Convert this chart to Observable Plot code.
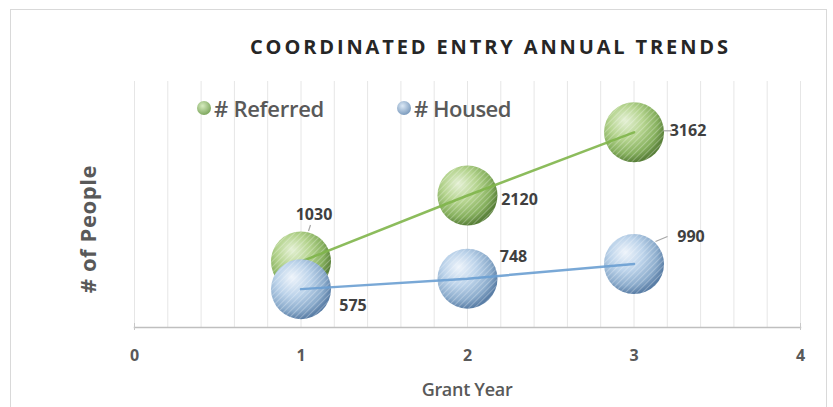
<!DOCTYPE html>
<html>
<head>
<meta charset="utf-8">
<script src="https://cdn.jsdelivr.net/npm/d3@7"></script>
<script src="https://cdn.jsdelivr.net/npm/@observablehq/plot@0.6"></script>
<style>
  html, body { margin: 0; padding: 0; background: #fff; }
  #wrap { position: relative; width: 833px; height: 407px; overflow: hidden; font-family: "Open Sans", "DejaVu Sans", sans-serif; }
  #wrap svg { position: absolute; left: 0; top: 0; }
  .border { position: absolute; left: 10px; top: 9px; width: 817px; height: 420px; border: 1px solid #d9d9d9; box-sizing: border-box; }
  .title { position: absolute; top: 34px; left: 250px; font-size: 20px; font-weight: 700; color: #262626; white-space: nowrap; line-height: 26px; }
  .legend { position: absolute; top: 93px; font-size: 22px; font-weight: 600; color: #595959; white-space: nowrap; display: flex; align-items: center; line-height: 30px; }
  .legend .sw { width: 14px; height: 14px; border-radius: 50%; margin-right: 3px; }
  .ylab { position: absolute; left: 87px; top: 229px; transform: translate(-50%, -50%) rotate(-90deg); font-size: 22px; font-weight: 700; color: #595959; white-space: nowrap; letter-spacing: 0.6px; }
  .xlab { position: absolute; left: 467px; top: 389px; transform: translate(-50%, -50%); font-size: 18px; font-weight: 600; color: #595959; white-space: nowrap; letter-spacing: -0.3px; }
</style>
</head>
<body>
<div id="wrap">
  <div class="border"></div>
</div>
<script>
// ---- data ----
const years = [1, 2, 3];
const referred = [1030, 2120, 3162];
const housed = [575, 748, 990];
const seriesNames = ["# Referred", "# Housed"];
const xTicks = [0, 1, 2, 3, 4];
const titleText = "COORDINATED ENTRY ANNUAL TRENDS";
const xLabel = "Grant Year";
const yLabel = "# of People";

// ---- build table ----
const rows = [];
years.forEach((yr, i) => rows.push({series: seriesNames[0], year: yr, value: referred[i], i}));
years.forEach((yr, i) => rows.push({series: seriesNames[1], year: yr, value: housed[i], i}));
const refRows = rows.filter(d => d.series === seriesNames[0]);
const houRows = rows.filter(d => d.series === seriesNames[1]);

// label placement (style, not data)
const labelOffsets = {
  "# Referred": [[13, -47], [52, 4], [54, -1]],
  "# Housed": [[52, 17], [46, -22], [57, -27]]
};
// short leader lines for some labels: [dx1, dy1, dx2, dy2] relative to point
const leaders = {
  "# Referred": [[8, -30, 10, -36], null, [30, -1, 38, -1]],
  "# Housed": [null, null, [22, -22, 34, -27]]
};

const green = "#7fb54a", blue = "#6a9fd2";

const labelMarks = rows.map(d => Plot.text([d], {
  x: "year", y: "value", text: r => String(r.value),
  dx: labelOffsets[d.series][d.i][0], dy: labelOffsets[d.series][d.i][1],
  fontSize: 16, fontWeight: 700, fill: "#404040", textAnchor: "middle"
}));

// leader lines drawn relative to the scaled data point
const leaderMark = (data) => (index, scales) => {
  const g = d3.create("svg:g");
  for (const d of data) {
    const L = leaders[d.series][d.i];
    if (!L) continue;
    const cx = scales.x(d.year), cy = scales.y(d.value);
    g.append("line").attr("x1", cx + L[0]).attr("y1", cy + L[1]).attr("x2", cx + L[2]).attr("y2", cy + L[3])
      .attr("stroke", "#a6a6a6").attr("stroke-width", 1.2);
  }
  return g.node();
};

const plot = Plot.plot({
  width: 833,
  height: 407,
  marginLeft: 134,
  marginRight: 33,
  marginTop: 81,
  marginBottom: 80,
  style: {background: "transparent", overflow: "visible", fontFamily: "'Open Sans', sans-serif"},
  x: {domain: [0, 4], axis: null},
  y: {domain: [-58, 4000], axis: null},
  marks: [
    Plot.gridX(d3.range(0, 4.001, 0.2), {stroke: "#e6e6e6", strokeOpacity: 1, strokeWidth: 1}),
    Plot.frame({anchor: "bottom", stroke: "#bfbfbf", strokeWidth: 1.5}),
    Plot.axisX({ticks: [0, 4], tickSize: 7, tickFormat: () => "", stroke: "#c8c8c8", label: null, dy: -4}),
    Plot.axisX({ticks: xTicks, tickSize: 0, tickPadding: 22, tickFormat: d3.format("d"), fontSize: 16, fontWeight: 700, fill: "#595959", label: null}),
    // bubbles
    Plot.dot(refRows, {x: "year", y: "value", r: 30, fill: "url(#gGreen)", stroke: "none"}),
    Plot.dot(refRows, {x: "year", y: "value", r: 30, fill: "url(#hatch)", stroke: "none"}),
    Plot.line(refRows, {x: "year", y: "value", stroke: green, strokeWidth: 2.5, strokeOpacity: 0.9}),
    Plot.dot(houRows, {x: "year", y: "value", r: 30, fill: "url(#gBlue)", stroke: "none"}),
    Plot.dot(houRows, {x: "year", y: "value", r: 30, fill: "url(#hatch)", stroke: "none"}),
    Plot.line(houRows, {x: "year", y: "value", stroke: blue, strokeWidth: 2.5, strokeOpacity: 0.9}),
    leaderMark(rows),
    ...labelMarks
  ]
});

const wrap = document.getElementById("wrap");
wrap.appendChild(plot);

// defs for gradients & hatch
const svg = d3.select(plot);
const defs = svg.insert("defs", ":first-child");
function grad(id, stops) {
  const g = defs.append("radialGradient").attr("id", id).attr("cx", "40%").attr("cy", "38%").attr("r", "62%").attr("fx", "35%").attr("fy", "30%");
  stops.forEach(([o, c]) => g.append("stop").attr("offset", o).attr("stop-color", c));
}
grad("gGreen", [["0%", "#e4f0d4"], ["45%", "#b5d48f"], ["80%", "#86b05e"], ["100%", "#587f38"]]);
grad("gBlue", [["0%", "#eef4fb"], ["45%", "#bcd3ea"], ["80%", "#8caccc"], ["100%", "#5a7ea6"]]);
const pat = defs.append("pattern").attr("id", "hatch").attr("patternUnits", "userSpaceOnUse").attr("width", 4).attr("height", 4).attr("patternTransform", "rotate(45)");
pat.append("line").attr("x1", 0).attr("y1", 0).attr("x2", 0).attr("y2", 4).attr("stroke", "#ffffff").attr("stroke-width", 1.2).attr("stroke-opacity", 0.45);

// overlays: title, legend, axis labels
const t = document.createElement("div");
t.className = "title"; t.textContent = titleText; wrap.appendChild(t);
const natural = t.getBoundingClientRect().width;
t.style.letterSpacing = ((478 - natural) / (titleText.length - 1)) + "px";

function legendItem(left, textWidth, label, c1, c2) {
  const el = document.createElement("div");
  el.className = "legend"; el.style.left = left + "px";
  const sw = document.createElement("span");
  sw.className = "sw";
  sw.style.background = `radial-gradient(circle at 40% 35%, ${c1}, ${c2})`;
  el.appendChild(sw);
  const tx = document.createElement("span"); tx.textContent = label; el.appendChild(tx);
  wrap.appendChild(el);
  const w = tx.getBoundingClientRect().width;
  tx.style.letterSpacing = ((textWidth - w) / label.length) + "px";
}
legendItem(197, 110, seriesNames[0], "#d6ecbf", "#5f8f3c");
legendItem(397, 97, seriesNames[1], "#dce9f6", "#5a80aa");

const yl = document.createElement("div");
yl.className = "ylab"; yl.textContent = yLabel; wrap.appendChild(yl);
const xl = document.createElement("div");
xl.className = "xlab"; xl.textContent = xLabel; wrap.appendChild(xl);
</script>
</body>
</html>
